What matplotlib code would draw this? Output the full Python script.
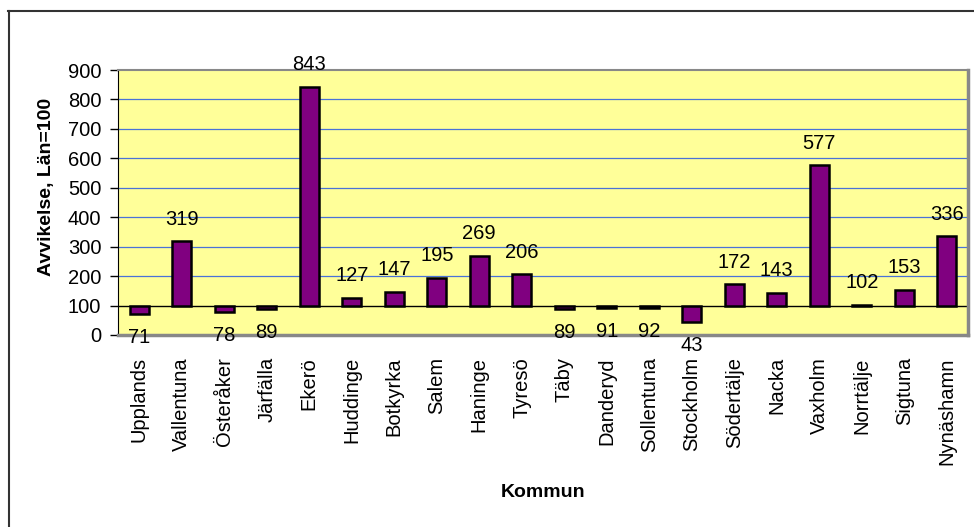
import matplotlib.pyplot as plt
from matplotlib.lines import Line2D

plt.rcParams['font.family'] = ['Liberation Sans', 'DejaVu Sans']

# data
kommuner = ['Upplands', 'Vallentuna', 'Österåker', 'Järfälla', 'Ekerö',
            'Huddinge', 'Botkyrka', 'Salem', 'Haninge', 'Tyresö', 'Täby',
            'Danderyd', 'Sollentuna', 'Stockholm', 'Södertälje', 'Nacka',
            'Vaxholm', 'Norrtälje', 'Sigtuna', 'Nynäshamn']
avvikelse = [71, 319, 78, 89, 843, 127, 147, 195, 269, 206, 89,
             91, 92, 43, 172, 143, 577, 102, 153, 336]
bas = 100
yticks = list(range(0, 1000, 100))

fig = plt.figure(figsize=(9.74, 5.27), dpi=100)
ax = fig.add_axes([118 / 974, 1 - 335 / 527, 850 / 974, 265 / 527])
ax.set_facecolor('#FFFF99')

x = range(len(kommuner))
hojd = [v - bas for v in avvikelse]
ax.bar(x, hojd, bottom=bas, width=0.45, color='#800080',
       edgecolor='black', linewidth=1.8, zorder=3)

for i, v in enumerate(avvikelse):
    if v >= bas:
        ax.annotate(str(v), (i, v), xytext=(0, 9), textcoords='offset points',
                    ha='center', va='bottom', fontsize=14.5)
    else:
        ax.annotate(str(v), (i, v), xytext=(0, -10), textcoords='offset points',
                    ha='center', va='top', fontsize=14.5)

ax.set_xlim(-0.5, len(kommuner) - 0.5)
ax.set_ylim(0, 900)
ax.set_yticks(yticks)
ax.tick_params(axis='y', labelsize=14.5, length=6, width=1, pad=6)
for y in yticks[2:-1]:
    ax.axhline(y, color='#4a72d8', lw=0.9, zorder=1)
ax.axhline(bas, color='black', lw=1, zorder=2)

ax.set_xticks(list(x))
ax.set_xticklabels(kommuner, rotation=90, fontsize=14.5)
ax.tick_params(axis='x', length=0, pad=16)

ax.spines['left'].set_color('black')
ax.spines['top'].set_color('#888888')
ax.spines['top'].set_linewidth(1.5)
ax.spines['right'].set_color('#888888')
ax.spines['right'].set_linewidth(2.5)
ax.spines['bottom'].set_color('#888888')
ax.spines['bottom'].set_linewidth(2.5)

ax.set_ylabel('Avvikelse, Län=100', fontsize=14, fontweight='bold', labelpad=9)
ax.yaxis.label.set_y(0.56)
ax.set_xlabel('Kommun', fontsize=14, fontweight='bold', labelpad=14)

# chart frame (only left and top edges visible)
fig.add_artist(Line2D([8.5 / 974, 8.5 / 974], [0, 1 - 11 / 527],
                      transform=fig.transFigure, color='#333333', lw=1.5))
fig.add_artist(Line2D([8 / 974, 1], [1 - 11 / 527, 1 - 11 / 527],
                      transform=fig.transFigure, color='#333333', lw=1.5))

fig.savefig('out.png', dpi=100)
